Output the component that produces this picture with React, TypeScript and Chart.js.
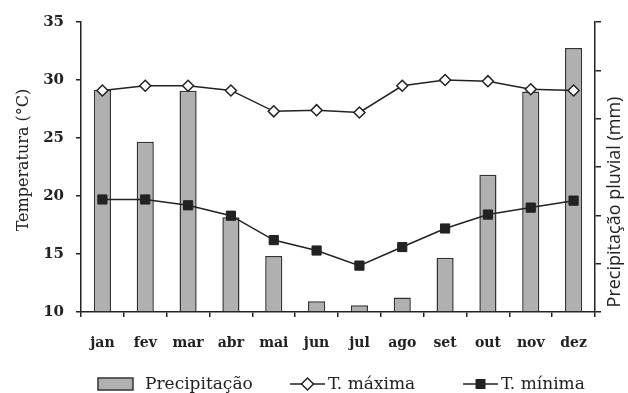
import React, { useEffect, useRef } from "react";
import { Chart, registerables } from "chart.js";

Chart.register(...registerables);

const months = ["jan", "fev", "mar", "abr", "mai", "jun", "jul", "ago", "set", "out", "nov", "dez"];
const precipitacao = [230, 176, 229, 98, 58, 11, 7, 15, 56, 142, 228, 273];
const tMaxima = [29.1, 29.5, 29.5, 29.1, 27.3, 27.4, 27.2, 29.5, 30.0, 29.9, 29.2, 29.1];
const tMinima = [19.7, 19.7, 19.2, 18.3, 16.2, 15.3, 14.0, 15.6, 17.2, 18.4, 19.0, 19.6];

const leftTitle = "Temperatura (°C)";
const rightTitle = "Precipitação pluvial (mm)";
const legendLabels = ["Precipitação", "T. máxima", "T. mínima"];

const INK = "#222";
const BAR_FILL = "#b0b0b0";
const SERIF = "'DejaVu Serif', serif";
const SANS = "'Open Sans', 'Noto Sans', sans-serif";

const decorPlugin = {
  id: "decor",
  afterDraw(chart: any) {
    const ctx = chart.ctx as CanvasRenderingContext2D;
    ctx.save();
    // left title
    ctx.fillStyle = INK;
    ctx.font = `16px ${SERIF}`;
    ctx.textAlign = "center";
    ctx.textBaseline = "middle";
    ctx.save();
    ctx.translate(24, 160);
    ctx.rotate(-Math.PI / 2);
    ctx.fillText(leftTitle, 0, 0);
    ctx.restore();
    // right title
    ctx.font = `18px ${SANS}`;
    ctx.save();
    ctx.translate(615, 202);
    ctx.rotate(-Math.PI / 2);
    ctx.fillText(rightTitle, 0, 0);
    ctx.restore();

    // legend
    const ly = 384;
    ctx.font = `17px ${SERIF}`;
    ctx.textAlign = "left";
    ctx.textBaseline = "middle";
    ctx.fillStyle = BAR_FILL;
    ctx.strokeStyle = "#333";
    ctx.lineWidth = 1.5;
    ctx.fillRect(98, ly - 6, 35, 12);
    ctx.strokeRect(98, ly - 6, 35, 12);
    ctx.fillStyle = INK;
    ctx.fillText(legendLabels[0], 145, ly + 1);
    ctx.strokeStyle = INK;
    ctx.beginPath();
    ctx.moveTo(290, ly);
    ctx.lineTo(325, ly);
    ctx.stroke();
    ctx.beginPath();
    ctx.moveTo(307.5 - 6, ly);
    ctx.lineTo(307.5, ly - 6);
    ctx.lineTo(307.5 + 6, ly);
    ctx.lineTo(307.5, ly + 6);
    ctx.closePath();
    ctx.fillStyle = "#fff";
    ctx.fill();
    ctx.stroke();
    ctx.fillStyle = INK;
    ctx.fillText(legendLabels[1], 328, ly + 1);
    ctx.beginPath();
    ctx.moveTo(463, ly);
    ctx.lineTo(498, ly);
    ctx.stroke();
    ctx.fillStyle = INK;
    ctx.fillRect(480.5 - 5, ly - 5, 10, 10);
    ctx.fillText(legendLabels[2], 501, ly + 1);
    ctx.restore();
  },
};

export default function App() {
  const ref = useRef<HTMLCanvasElement>(null);
  useEffect(() => {
    if (!ref.current) return;
    const chart = new Chart(ref.current, {
      type: "bar",
      data: {
        labels: months,
        datasets: [
          {
            type: "line",
            label: legendLabels[1],
            data: tMaxima,
            yAxisID: "y",
            borderColor: INK,
            borderWidth: 1.5,
            backgroundColor: "#fff",
            pointStyle: "rectRot",
            pointRadius: 5.5,
            pointBorderColor: INK,
            pointBorderWidth: 1.5,
            pointBackgroundColor: "#fff",
            tension: 0,
            order: 1,
          },
          {
            type: "line",
            label: legendLabels[2],
            data: tMinima,
            yAxisID: "y",
            borderColor: INK,
            borderWidth: 1.5,
            backgroundColor: INK,
            pointStyle: "rect",
            pointRadius: 6.5,
            pointBorderColor: INK,
            pointBorderWidth: 1,
            pointBackgroundColor: INK,
            tension: 0,
            order: 2,
          },
          {
            type: "bar",
            label: legendLabels[0],
            data: precipitacao,
            yAxisID: "yR",
            backgroundColor: BAR_FILL,
            borderColor: "#333",
            borderWidth: 1.5,
            barPercentage: 0.4,
            categoryPercentage: 1,
            order: 3,
          },
        ],
      },
      options: {
        responsive: false,
        animation: false,
        layout: { padding: { top: 22, left: 0, right: 0, bottom: 0 } },
        plugins: { legend: { display: false }, tooltip: { enabled: false } },
        scales: {
          x: {
            offset: true,
            grid: { offset: true, drawOnChartArea: false, drawTicks: true, tickLength: 5, color: INK, lineWidth: 1.5 },
            border: { display: true, color: INK, width: 1.5 },
            ticks: { color: INK, padding: 18, font: { family: SERIF, size: 14, weight: "bold" } },
            afterFit: (s: any) => { s.height = 81; },
          },
          y: {
            position: "left",
            min: 10,
            max: 35,
            ticks: { stepSize: 5, color: INK, padding: 12, font: { family: SERIF, size: 15, weight: "bold" } },
            grid: { drawOnChartArea: false, drawTicks: true, tickLength: 5, color: INK, lineWidth: 1.5 },
            border: { display: true, color: INK, width: 1.5 },
            afterFit: (s: any) => { s.width = 81; },
          },
          yR: {
            position: "right",
            min: 0,
            max: 300,
            ticks: { stepSize: 50, display: false },
            grid: { drawOnChartArea: false, drawTicks: true, tickLength: 6, color: INK, lineWidth: 1.5 },
            border: { display: true, color: INK, width: 1.5 },
            afterFit: (s: any) => { s.width = 33; },
          },
        },
      },
      plugins: [decorPlugin],
    } as any);
    return () => chart.destroy();
  }, []);
  return (
    <div style={{ position: "absolute", left: 0, top: 0, width: 628, height: 393, background: "#fff" }}>
      <canvas ref={ref} width={628} height={393} />
    </div>
  );
}
